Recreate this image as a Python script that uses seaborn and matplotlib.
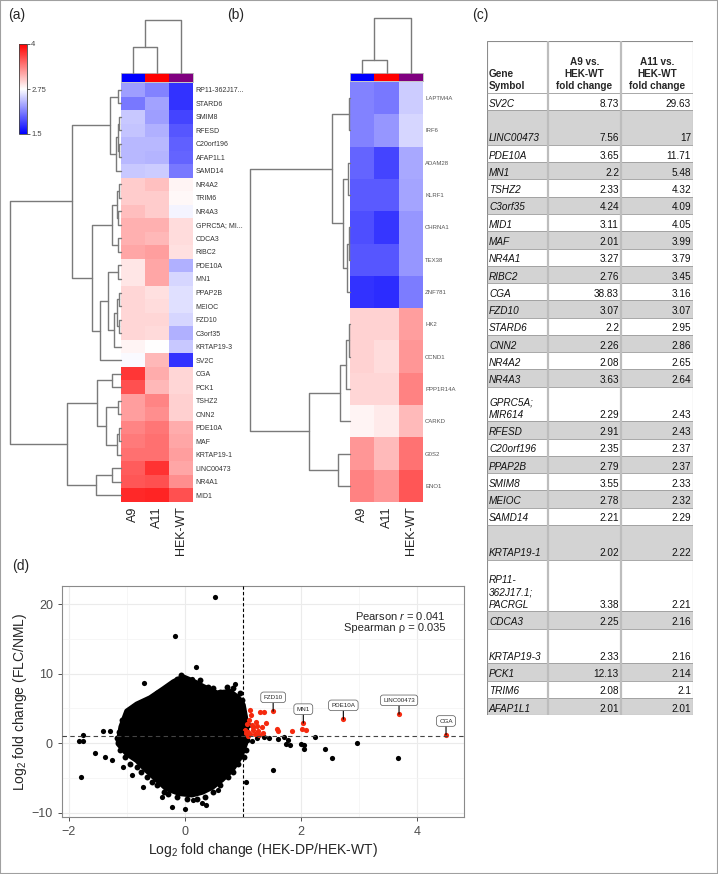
import matplotlib
matplotlib.use("Agg")
import matplotlib.pyplot as plt
from matplotlib.cm import ScalarMappable
from matplotlib.colors import ListedColormap, Normalize
from matplotlib.patches import Rectangle
import numpy as np
import pandas as pd
import seaborn as sns

sns.set_style("white")
plt.rcParams["font.family"] = ["Liberation Sans", "DejaVu Sans"]
plt.rcParams["mathtext.fontset"] = "custom"
plt.rcParams["mathtext.rm"] = "Liberation Sans"
plt.rcParams["mathtext.it"] = "Liberation Sans:italic"

# ---------------- data ----------------
samples = ["A9", "A11", "HEK-WT"]
sample_colors = ["#0000ff", "#ff0000", "#800080"]

# (a) heatmap, genes top to bottom
a_genes = ["RP11-362J17...", "STARD6", "SMIM8", "RFESD", "C20orf196", "AFAP1L1", "SAMD14",
           "NR4A2", "TRIM6", "NR4A3", "GPRC5A; MI...", "CDCA3", "RIBC2", "PDE10A", "MN1",
           "PPAP2B", "MEIOC", "FZD10", "C3orf35", "KRTAP19-3", "SV2C", "CGA", "PCK1", "TSHZ2",
           "CNN2", "PDE10A", "MAF", "KRTAP19-1", "LINC00473", "NR4A1", "MID1"]
a_A9 = [2.28, 2.09, 2.48, 2.46, 2.40, 2.40, 2.48, 3.00, 3.00, 3.07, 3.14, 3.14, 3.18, 2.87, 2.87,
        2.95, 2.95, 2.95, 2.95, 2.80, 2.73, 3.73, 3.60, 3.22, 3.22, 3.35, 3.40, 3.45, 3.55, 3.58, 3.80]
a_A11 = [2.14, 2.30, 2.28, 2.36, 2.40, 2.38, 2.50, 3.06, 3.00, 3.00, 3.14, 3.10, 3.22, 3.18, 3.18,
         2.90, 2.92, 2.95, 2.93, 2.75, 3.10, 3.16, 3.10, 3.35, 3.30, 3.42, 3.45, 3.45, 3.75, 3.60, 3.82]
a_HEK = [1.75, 1.75, 1.84, 1.92, 1.97, 1.99, 2.09, 2.80, 2.78, 2.70, 2.92, 2.92, 2.90, 2.36, 2.55,
         2.60, 2.60, 2.55, 2.36, 2.48, 1.75, 2.95, 2.95, 2.98, 2.98, 3.16, 3.18, 3.22, 3.18, 3.30, 3.60]

# dendrograms: (height, left, right), ints are leaf indices
a_row_tree = (111,
              (49,
               (11, (3, 0, 1), (5, (3, (2, 2, 3), (2, 4, 5)), 6)),
               (29,
                (9, (4, (2, 7, 8), (3, 9, 10)), (3, 11, 12)),
                (21, (13, (3, 13, 14), (7, (4, (2, 15, 16), (2, 17, 18)), 19)), 20))),
              (54,
               (24, (9, 21, 22), (15, (3, 23, 24), (4, (2, 25, 26), 27))),
               (25, (9, 28, 29), 30)))
a_col_tree = (53, (26, 0, 1), 2)

# (b) heatmap
b_genes = ["LAPTM4A", "IRF6", "ADAM28", "KLRF1", "CHRNA1", "TEX38", "ZNF781",
           "HK2", "CCND1", "PPP1R14A", "CARKD", "G0S2", "ENO1"]
b_A9 = [2.14, 2.14, 1.99, 1.94, 1.89, 1.92, 1.75, 2.97, 2.97, 2.95, 2.80, 3.26, 3.36]
b_A11 = [2.09, 2.24, 1.84, 1.94, 1.77, 1.92, 1.72, 2.97, 2.92, 2.95, 2.85, 3.09, 3.26]
b_HEK = [2.50, 2.55, 2.33, 2.31, 2.24, 2.24, 2.11, 3.22, 3.26, 3.36, 3.09, 3.44, 3.58]
b_row_tree = (100,
              (18, (1, 0, 1), (7, (2, 2, 3), (3, (1, 4, 5), 6))),
              (41, (10, (4, (1, 7, 8), 9), 10), (12, 11, 12)))
b_col_tree = (55, (13, 0, 1), 2)

# (c) table
tab_genes = ["SV2C", "LINC00473", "PDE10A", "MN1", "TSHZ2", "C3orf35", "MID1", "MAF", "NR4A1",
             "RIBC2", "CGA", "FZD10", "STARD6", "CNN2", "NR4A2", "NR4A3", "GPRC5A;\nMIR614",
             "RFESD", "C20orf196", "PPAP2B", "SMIM8", "MEIOC", "SAMD14", "KRTAP19-1",
             "RP11-\n362J17.1;\nPACRGL", "CDCA3", "KRTAP19-3", "PCK1", "TRIM6", "AFAP1L1"]
tab_a9 = ["8.73", "7.56", "3.65", "2.2", "2.33", "4.24", "3.11", "2.01", "3.27", "2.76", "38.83",
          "3.07", "2.2", "2.26", "2.08", "3.63", "2.29", "2.91", "2.35", "2.79", "3.55", "2.78",
          "2.21", "2.02", "3.38", "2.25", "2.33", "12.13", "2.08", "2.01"]
tab_a11 = ["29.63", "17", "11.71", "5.48", "4.32", "4.09", "4.05", "3.99", "3.79", "3.45", "3.16",
           "3.07", "2.95", "2.86", "2.65", "2.64", "2.43", "2.43", "2.37", "2.37", "2.33", "2.32",
           "2.29", "2.22", "2.21", "2.16", "2.16", "2.14", "2.1", "2.01"]
tab_lines = [1, 2, 1, 1, 1, 1, 1, 1, 1, 1, 1, 1, 1, 1, 1, 1, 2, 1, 1, 1, 1, 1, 1, 2, 3, 1, 2, 1, 1, 1]
tab_headers = ["Gene\nSymbol", "A9 vs.\nHEK-WT\nfold change", "A11 vs.\nHEK-WT\nfold change"]

# (d) scatter: dense core outline, points on its ragged edge, outliers, highlighted genes
blob_x = [-1.15, -1.10, -1.00, -0.83, -0.60, -0.37, -0.20, -0.03, 0.14, 0.32, 0.55, 0.78, 0.92,
          1.00, 1.04, 1.06, 1.04, 0.96, 0.81, 0.64, 0.47, 0.30, 0.12, -0.09, -0.32, -0.49,
          -0.66, -0.83, -1.00]
blob_y = [-0.05, 2.35, 4.6, 5.6, 6.5, 7.8, 8.8, 9.5, 8.9, 8.1, 7.2, 7.4, 6.5, 5.5, 3.7, 1.9,
          -0.05, -1.9, -3.8, -5.2, -6.3, -7.0, -7.4, -7.2, -6.5, -5.2, -3.9, -2.45, -1.5]
edge_x = [-1.09, -1.01, -0.89, -0.78, -0.63, -0.49, -0.37, -0.26, -0.14, -0.06, 0.26, 0.40, 0.49,
          0.61, 0.72, 0.83, 0.95, 0.98, -1.12, -1.03, -0.95, -0.83, -0.75, -0.66, -0.57, -0.49,
          -0.37, -0.29, -0.14, 0.03, 0.20, 0.34, 0.49, 0.61, 0.75, 0.83, 0.92, 1.01, 1.06, -1.18,
          -1.14, 1.08, 1.07]
edge_y = [3.31, 4.03, 5.22, 5.47, 6.19, 7.15, 7.38, 8.35, 9.3, 9.78, 9.06, 8.1, 7.87, 7.38, 8.1,
          7.87, 7.15, 6.19, -1.0, -1.97, -2.93, -3.41, -4.13, -4.85, -5.57, -6.04, -7.0, -7.25,
          -7.73, -7.96, -7.96, -7.73, -7.0, -6.04, -4.85, -4.13, -2.93, -1.97, -1.0, 0.8, 1.6,
          2.6, 0.5]
out_x = [0.52, -0.18, 0.19, 0.12, -0.70, 0.86, 0.11, 0.44, -1.76, -1.83, -1.76, -1.79, -1.55,
         -1.41, -1.29, -1.38, -1.26, -1.06, -0.92, -0.72, -0.40, -0.23, 0.00, 0.13, 0.29, 0.37,
         0.57, 1.06, 1.52, 2.00, 2.05, 2.41, 2.53, 2.24, 2.97, 1.70, 1.78, 1.45, 1.60, 1.36,
         1.25, 1.15, 1.75, 1.81, 2.06, 3.68, 0.98, 0.97]
out_y = [21.05, 15.4, 11.0, 9.2, 8.6, 8.5, 8.1, 7.15, 1.25, 0.29, 0.29, -4.85, -1.4, 1.73, 1.8,
         -1.97, -2.45, -3.4, -4.6, -6.3, -7.7, -9.1, -9.4, -8.2, -8.6, -8.9, -6.7, -5.6, -3.9,
         -0.05, -0.24, -0.77, -2.1, 0.9, 0.1, 0.9, 0.43, 0.8, 0.55, 0.95, 0.7, 0.3, -0.05, -0.2,
         -0.86, -2.1, 5.7, 5.3]
red_x = [1.12, 1.13, 1.29, 1.37, 1.52, 1.10, 1.22, 1.07, 1.16, 1.25, 1.32, 1.40, 1.03, 1.09, 1.18,
         1.26, 1.35, 1.05, 1.12, 1.21, 1.27, 1.08, 1.17, 1.58, 1.60, 1.84, 2.01, 2.08, 2.04, 2.73,
         3.69, 4.50]
red_y = [4.85, 4.0, 4.5, 4.5, 4.6, 3.3, 3.1, 2.73, 2.6, 2.5, 2.4, 2.85, 1.9, 1.64, 1.9, 1.78, 1.5,
         1.5, 1.4, 1.4, 1.22, 1.1, 2.4, 2.1, 1.72, 1.77, 2.1, 1.86, 2.9, 3.45, 4.17, 1.2]
lab_genes = ["FZD10", "MN1", "PDE10A", "LINC00473", "CGA"]
lab_x = [1.52, 2.04, 2.73, 3.69, 4.50]
lab_y = [4.6, 2.9, 3.45, 4.17, 1.2]

# ---------------- figure ----------------
W, H = 718, 874
fig = plt.figure(figsize=(W / 100, H / 100), dpi=100)
DENDRO = "#7a7a7a"


def add_ax(l, t, r, b):
    return fig.add_axes([l / W, 1 - b / H, (r - l) / W, (b - t) / H])


def draw_tree(ax, node, side):
    if isinstance(node, int):
        return node + 0.5, 0
    h, left, right = node
    p1, h1 = draw_tree(ax, left, side)
    p2, h2 = draw_tree(ax, right, side)
    if side == "left":
        ax.plot([h1, h, h, h2], [p1, p1, p2, p2], color=DENDRO, lw=1, clip_on=False)
    else:
        ax.plot([p1, p1, p2, p2], [h1, h, h, h2], color=DENDRO, lw=1, clip_on=False)
    return (p1 + p2) / 2, h


def heat_panel(genes, cols, row_tree, col_tree, box, bar, dtop, dleft, lsize, lcolor, lpad):
    l, t, r, b = box
    df = pd.DataFrame(dict(zip(samples, cols)), index=genes)
    ax = add_ax(l, t, r, b)
    sns.heatmap(df, cmap="bwr", vmin=1.5, vmax=4, cbar=False, ax=ax,
                xticklabels=True, yticklabels=True)
    ax.yaxis.tick_right()
    ax.tick_params(axis="y", length=0, labelsize=lsize, labelcolor=lcolor, pad=lpad)
    ax.tick_params(axis="x", length=0, labelsize=9, labelcolor="#222", pad=3)
    plt.setp(ax.get_yticklabels(), rotation=0)
    plt.setp(ax.get_xticklabels(), rotation=90)
    ax.set_xlabel("")
    ax.set_ylabel("")

    bax = add_ax(l, bar[0], r, bar[1])
    sns.heatmap(np.arange(len(samples))[None, :], cmap=ListedColormap(sample_colors),
                cbar=False, xticklabels=False, yticklabels=False, ax=bax)
    for s in bax.spines.values():
        s.set_visible(True)
        s.set_color("#bbbbbb")
        s.set_linewidth(0.6)

    cax = add_ax(l, dtop, r, bar[0])
    cax.set_xlim(0, len(samples))
    cax.set_ylim(0, col_tree[0])
    draw_tree(cax, col_tree, "top")
    cax.axis("off")

    rax = add_ax(dleft, t, l, b)
    rax.set_ylim(len(genes), 0)
    rax.set_xlim(row_tree[0], 0)
    draw_tree(rax, row_tree, "left")
    rax.axis("off")


# (a)
heat_panel(a_genes, [a_A9, a_A11, a_HEK], a_row_tree, a_col_tree,
           (121, 83, 193, 502), (73, 82), 20, 10, 5, "#333333", 2)
cbx = add_ax(19, 44, 27, 134)
cb = fig.colorbar(ScalarMappable(norm=Normalize(1.5, 4), cmap="bwr"), cax=cbx,
                  ticks=[1.5, 2.75, 4])
cb.ax.set_yticklabels(["1.5", "2.75", "4"])
cb.ax.tick_params(labelsize=5.5, labelcolor="#444444", length=2, width=0.5, pad=1)
cb.outline.set_edgecolor("#444444")
cb.outline.set_linewidth(0.6)

# (b)
heat_panel(b_genes, [b_A9, b_A11, b_HEK], b_row_tree, b_col_tree,
           (350, 82, 423, 502), (73, 81), 18, 250, 4.3, "#555555", 1.5)

# (c) table
tab = add_ax(487, 41, 693, 715)
tab.set_xlim(0, 206)
tab.set_ylim(674, 0)
tab.axis("off")
col_edges = [0, 61, 134, 206]
unit = 17.28
head_h = 52
fs = 7.2
tab.text(2, head_h - 2, tab_headers[0], ha="left", va="bottom", fontsize=fs,
         fontweight="bold", linespacing=1.25)
for j in (1, 2):
    tab.text((col_edges[j] + col_edges[j + 1]) / 2, head_h - 2, tab_headers[j], ha="center",
             va="bottom", fontsize=fs, fontweight="bold", linespacing=1.25, multialignment="center")
y = head_h
for i, gene in enumerate(tab_genes):
    hgt = tab_lines[i] * unit
    if i % 2 == 1:
        tab.add_patch(Rectangle((0, y), 206, hgt, facecolor="#d3d3d3", edgecolor="none"))
    tab.plot([0, 206], [y, y], color="#9a9a9a", lw=0.6)
    tab.text(2, y + hgt - 1.5, gene, ha="left", va="bottom", fontsize=fs, style="italic",
             color="#111111", linespacing=1.3)
    tab.text(col_edges[2] - 2, y + hgt - 1.5, tab_a9[i], ha="right", va="bottom", fontsize=fs,
             color="#111111")
    tab.text(col_edges[3] - 2, y + hgt - 1.5, tab_a11[i], ha="right", va="bottom", fontsize=fs,
             color="#111111")
    y += hgt
for xe in col_edges[1:3]:
    tab.plot([xe, xe], [0, y], color="#bdbdbd", lw=1.6)
tab.add_patch(Rectangle((0, 0), 206, y, fill=False, edgecolor="#8c8c8c", lw=0.8))

# (d) scatter
ax = add_ax(62, 586, 464, 817)
ax.set_axisbelow(True)
ax.fill(blob_x, blob_y, color="black", lw=4, joinstyle="round", zorder=2)
sns.scatterplot(x=edge_x, y=edge_y, color="black", s=18, linewidth=0, ax=ax, zorder=3)
sns.scatterplot(x=out_x, y=out_y, color="black", s=14, linewidth=0, ax=ax, zorder=3)
sns.scatterplot(x=red_x, y=red_y, color="#f52a0f", s=14, linewidth=0, ax=ax, zorder=4)
ax.axvline(1, color="black", lw=0.8, ls=(0, (3, 2)), zorder=5)
ax.axhline(1, color="#444444", lw=0.8, ls=(0, (4, 3)), zorder=5)
for g, gx, gy in zip(lab_genes, lab_x, lab_y):
    ax.annotate(g, xy=(gx, gy), xytext=(0, 10), textcoords="offset points", ha="center",
                va="center", fontsize=4.5, zorder=6,
                bbox=dict(boxstyle="round,pad=0.45", fc="white", ec="#555555", lw=0.5),
                arrowprops=dict(arrowstyle="-", color="black", lw=0.8, shrinkA=0, shrinkB=0))
ax.set_xlim(-2.12, 4.81)
ax.set_ylim(-10.6, 22.6)
ax.set_xticks([-2, 0, 2, 4])
ax.set_yticks([-10, 0, 10, 20])
ax.set_xticks([-1, 1, 3], minor=True)
ax.set_yticks([-5, 5, 15], minor=True)
ax.grid(which="major", color="#ebebeb", lw=0.8)
ax.grid(which="minor", color="#f3f3f3", lw=0.5)
ax.tick_params(which="major", length=3, width=0.6, color="#333333", labelsize=9,
               labelcolor="#4d4d4d", left=True, bottom=True)
ax.tick_params(which="minor", length=0)
for s in ax.spines.values():
    s.set_color("#8a8a8a")
    s.set_linewidth(0.8)
ax.set_xlabel("Log$_2$ fold change (HEK-DP/HEK-WT)", fontsize=10, labelpad=2)
ax.set_ylabel("Log$_2$ fold change (FLC/NML)", fontsize=10, labelpad=2)
ax.text(0.953, 0.87, "Pearson $r$ = 0.041", transform=ax.transAxes, ha="right", va="center",
        fontsize=8)
ax.text(0.953, 0.818, "Spearman \u03c1 = 0.035", transform=ax.transAxes, ha="right",
        va="center", fontsize=8)

# panel letters and page border
for lab, px, py in [("(a)", 8, 15), ("(b)", 227, 15), ("(c)", 472, 15), ("(d)", 12, 566)]:
    fig.text(px / W, 1 - py / H, lab, ha="left", va="center", fontsize=10)
fig.add_artist(Rectangle((0, 0), 1, 1, transform=fig.transFigure, fill=False,
                         edgecolor="#a0a0a0", lw=1.5))

fig.savefig("out.png", dpi=100)
